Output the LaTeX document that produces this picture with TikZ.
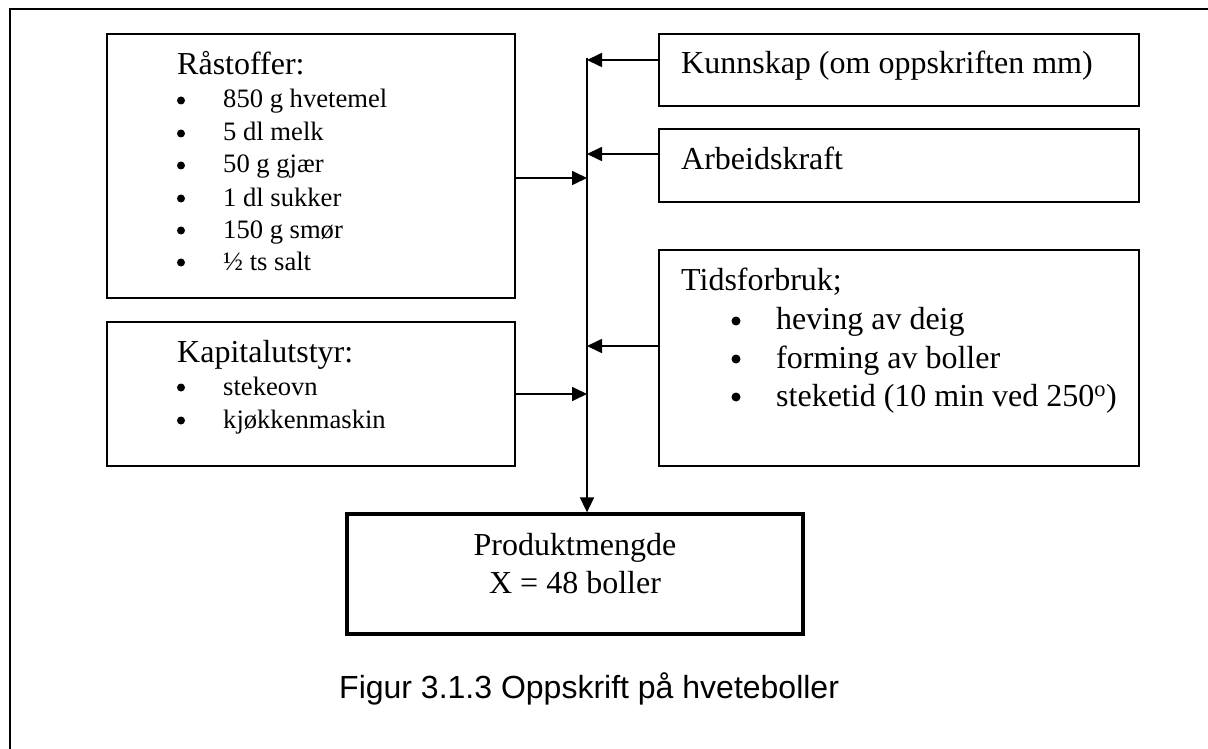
\documentclass[tikz,border=0pt]{standalone}
\usepackage{fontspec}
\setmainfont{Liberation Serif}
\newfontfamily\capfont{Liberation Sans}
\usetikzlibrary{arrows.meta}

\tikzset{
  box/.style={draw, line width=1.7pt, rectangle, inner sep=0pt},
  prodbox/.style={draw, line width=3.3pt, rectangle, inner sep=0pt},
  arr/.style={line width=1.7pt, -{Triangle[length=15pt,width=14pt]}},
  head/.style={anchor=base west, inner sep=0pt, font=\fontsize{32}{38}\selectfont},
  item/.style={anchor=base west, inner sep=0pt, font=\fontsize{26.6}{32}\selectfont},
  bigitem/.style={anchor=base west, inner sep=0pt, font=\fontsize{32}{38}\selectfont},
  ctext/.style={anchor=base, inner sep=0pt, font=\fontsize{32}{38}\selectfont},
  dot/.style={circle, fill, inner sep=0pt, minimum size=8pt},
  bigdot/.style={circle, fill, inner sep=0pt, minimum size=9pt}
}

\begin{document}
\begin{tikzpicture}[x=1pt, y=-1pt]
  \useasboundingbox (0,0) rectangle (1208,749);

  % page frame (top and left edges)
  \draw[line width=2.3pt] (10,749) -- (10,9) -- (1208,9);

  % boxes
  \node[box, minimum width=408pt, minimum height=264pt] (rast) at (311,166) {};
  \node[box, minimum width=480pt, minimum height=72pt] (kun) at (899,70) {};
  \node[box, minimum width=480pt, minimum height=73pt] (arb) at (899,165.5) {};
  \node[box, minimum width=480pt, minimum height=216pt] (tid) at (899,358) {};
  \node[box, minimum width=408pt, minimum height=144pt] (kap) at (311,394) {};
  \node[prodbox, minimum width=456pt, minimum height=120pt] (prod) at (575,574) {};

  % Råstoffer
  \node[head] (rasth) at (177,75) {Råstoffer:};
  \foreach \t/\y [count=\i] in {850 g hvetemel/108, 5 dl melk/141, 50 g gjær/173,
                                1 dl sukker/206, 150 g smør/238, ½ ts salt/270} {
    \node[dot] (rb\i) at (181,\y-7.5) {};
    \node[item] (ri\i) at (223,\y) {\t};
  }

  % Kapitalutstyr
  \node[head] (kaph) at (177,362) {Kapitalutstyr:};
  \foreach \t/\y [count=\i] in {stekeovn/395, kjøkkenmaskin/428} {
    \node[dot] (kb\i) at (181,\y-7.5) {};
    \node[item] (ki\i) at (223,\y) {\t};
  }

  % right column
  \node[head] (kunt) at (681,74) {Kunnskap (om oppskriften mm)};
  \node[head] (arbt) at (681,170) {Arbeidskraft};
  \node[head] (tidh) at (681,290) {Tidsforbruk;};
  \node[bigdot] (tb1) at (736,321) {};
  \node[bigitem] (ti1) at (776,329) {heving av deig};
  \node[bigdot] (tb2) at (736,359) {};
  \node[bigitem] (ti2) at (776,368) {forming av boller};
  \node[bigdot] (tb3) at (736,397) {};
  \node[bigitem] (ti3) at (776,406) {steketid (10 min ved 250\textsuperscript{o})};

  % product
  \node[ctext] (prod1) at (575,555) {Produktmengde};
  \node[ctext] (prod2) at (575,593) {X = 48 boller};

  % caption
  \node[anchor=base west, inner sep=0pt, font=\capfont\fontsize{32}{38}\selectfont]
    (cap) at (339,698) {Figur 3.1.3 Oppskrift på hveteboller};

  % collecting line and its junctions
  \coordinate (bustop) at (587,58);
  \coordinate (jk) at (587,60);
  \coordinate (ja) at (587,154);
  \coordinate (jr) at (587,178);
  \coordinate (jt) at (587,346);
  \coordinate (jc) at (587,394);

  \draw[arr] (bustop) -- (bustop |- prod.north);
  \draw[arr] (kun.west |- jk) -- (jk);
  \draw[arr] (arb.west |- ja) -- (ja);
  \draw[arr] (rast.east |- jr) -- (jr);
  \draw[arr] (tid.west |- jt) -- (jt);
  \draw[arr] (kap.east |- jc) -- (jc);
\end{tikzpicture}
\end{document}
